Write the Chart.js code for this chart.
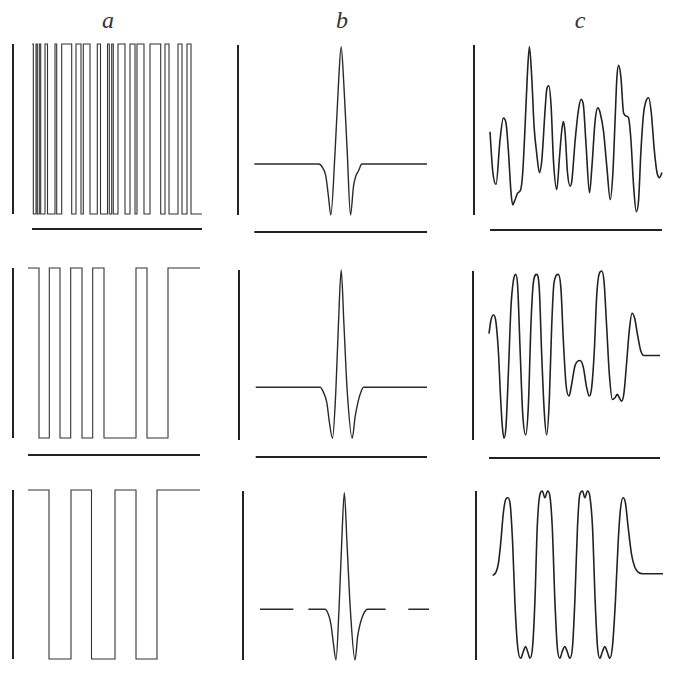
<!DOCTYPE html>
<html>
<head>
<meta charset="utf-8">
<title>Signals a, b, c</title>
<script src="https://cdn.jsdelivr.net/npm/chart.js@4.4.1/dist/chart.umd.min.js"></script>
<style>
  body { margin: 0; background: #fff; }
  #page { position: relative; width: 673px; height: 674px; overflow: hidden; }
  canvas { position: absolute; }
  .col-title { position: absolute; top: 8px; width: 40px; text-align: center;
               font: italic 24px/24px "Liberation Serif", "DejaVu Serif", serif; color: #333; }
</style>
</head>
<body>
<div id="page">
  <div class="col-title" style="left:88px">a</div>
  <div class="col-title" style="left:322px">b</div>
  <div class="col-title" style="left:560px">c</div>
</div>
<script>
// Column a: binary sequences, given as switch times (signal starts high)
const sq1Toggles = [1.3, 4, 5.3, 7.3, 8.7, 13, 15.5, 23, 24.7, 29.7, 39.7, 44, 49, 51.3, 58, 65.3, 68.5,
                    75.5, 77.3, 79.7, 81.3, 86, 93, 98, 103, 105, 112, 118, 128.7, 133, 137, 146, 150, 155, 159];
const sq1End = 170;
const sq2Toggles = [11, 21.3, 32, 42.7, 54, 64.7, 76, 108, 119, 140];
const sq2End = 172;
const sq3Toggles = [21, 43, 63.5, 87, 108, 129];
const sq3End = 172;

// Column b: pulse responses
const b1X = [0, 38.4, 41.4, 42.8, 44.4, 45.8, 48.4, 50.4, 52, 53.6, 55.6, 57.6, 59.4, 60.8, 62.4, 64.4, 103.4];
const b1Y = [30, 30, 27, 23, 11, 0, 38, 77, 99, 77, 38, 0, 17, 23, 26, 30, 30];
const b2X = [0, 38.6, 40.6, 42.6, 44.2, 46, 48, 49.6, 51.2, 52.8, 54.8, 57.8, 59.6, 61.2, 62.6, 64.6, 102.6];
const b2Y = [31, 31, 28, 22, 10, 1, 29, 69, 100, 69, 29, 1, 14, 22, 27, 31, 31];
const b3X = [0, 20, 24, 29, 39, 41, 42.6, 44, 45.6, 47.4, 49, 50.6, 52.2, 54.2, 57, 58.6, 60, 62, 64.6, 75.4, 82, 89, 101.4];
const b3Y = [30, 30, null, 30, 30, 27, 21, 10, 0, 30, 69, 99, 69, 30, 0, 14, 21, 27, 30, 30, null, 30, 30];

// Column c: filtered outputs
const c1X = [0, 1.6, 3.6, 6, 8, 9.6, 11, 12.6, 13.6, 15, 16.6, 18.4, 19.6, 21, 22.4, 23.6, 25, 26.4, 28, 29.6,
             31, 33, 34, 35.2, 36.6, 38, 40, 41.6, 43, 44, 45, 46.4, 48, 49, 51, 53, 54.6, 56, 57.6, 59.6,
             61, 63, 64.6, 66, 68, 70, 72, 73.6, 75, 76, 77, 78.4, 80, 82, 83, 84.4, 86, 87.6, 89, 90.4,
             92, 93.4, 95, 96.6, 98.4, 100, 101.6, 103];
const c1Y = [49, 26, 18, 44, 57, 54, 38, 13, 6, 9, 13, 15, 25, 52, 83, 99, 81, 52, 36, 25,
             32, 62, 74, 76, 64, 32, 15, 34, 50, 55, 48, 25, 17, 20, 44, 62, 68, 64, 40, 13,
             28, 56, 63, 60, 49, 28, 9, 25, 58, 81, 88, 81, 60, 58, 57, 44, 17, 2, 9, 38,
             60, 67, 69, 60, 38, 25, 22, 25];
const c2X = [0, 1.2, 2.6, 4, 5.6, 7, 8, 9, 10.2, 11.6, 13.2, 14.6, 16, 17.2, 18.6, 20.2, 22, 23.6, 25.2, 26.6,
             28.6, 30.2, 31.6, 33.2, 34.6, 36.2, 37.6, 39, 41.6, 43.2, 44.6, 46.2, 48, 49.6, 51.6, 54.6, 56.6, 58.6, 60.2, 61.6,
             63.2, 64.6, 66, 67.6, 69, 70.6, 72.2, 74, 75.6, 77, 78.2, 79.6, 81, 82.6, 84.2, 85.8, 87.4, 89, 91, 93,
             95.6, 102.6];
const c2Y = [63, 71, 74, 71, 53, 24, 8, 1, 8, 39, 79, 94, 98, 91, 55, 16, 3, 20, 69, 93,
             98, 89, 51, 16, 3, 24, 67, 93, 98, 89, 59, 33, 26, 33, 44, 47, 43, 31, 26, 31,
             53, 85, 98, 100, 94, 67, 39, 24, 25, 27, 25, 23, 28, 46, 65, 75, 72, 63, 53, 50,
             50, 50];
const c3X = [0, 2, 3.4, 4.8, 6.4, 7.8, 9, 10.4, 12, 13.4, 15, 16.8, 18.4, 19.8, 21, 22.4, 24, 25.4, 26.8, 28.4,
             29.8, 31.4, 33, 34.4, 35.8, 37.4, 38.8, 40.4, 41.8, 43.4, 44.8, 46.4, 48, 49.4, 51, 52.4, 54, 55.4, 57, 58.4,
             60, 61.6, 63, 64.4, 66, 67.4, 68.8, 70.4, 72, 73.8, 75.4, 76.8, 78.4, 79.8, 81.4, 83.4, 85.4, 87.4, 90.4, 102.4];
const c3Y = [50, 52, 57, 69, 87, 95, 96, 93, 69, 33, 8, 1, 5, 8, 5, 1, 8, 35, 79, 98,
             100, 96, 100, 97, 79, 35, 8, 1, 5, 8, 5, 1, 8, 35, 79, 98, 100, 96, 100, 97,
             79, 35, 8, 1, 5, 8, 5, 1, 8, 35, 69, 89, 96, 93, 79, 63, 55, 52, 51, 51];

const PAD = 4;

// turn switch times into a stepped series
function squarePoints(toggles, end) {
    let level = 100;
    const pts = [{ x: 0, y: level }];
    toggles.forEach(t => {
        level = 100 - level;
        pts.push({ x: t, y: level });
    });
    pts.push({ x: end, y: level });
    return pts;
}

function curvePoints(xs, ys) {
    return xs.map((x, i) => ({ x: x, y: ys[i] }));
}

// one small chart; p holds where it sits on the page
function makePanel(p) {
    const L = Math.round(p.lineX), R = Math.round(p.x1);
    const top = Math.round(p.yTop);
    const B = Math.round(p.axisY !== null ? p.axisY : p.yBot);

    const canvas = document.createElement('canvas');
    canvas.width = R - L + 2 * PAD;
    canvas.height = B - top + 2 * PAD;
    canvas.style.left = (L - PAD) + 'px';
    canvas.style.top = (top - PAD) + 'px';
    document.getElementById('page').appendChild(canvas);

    const xMin = -(p.x0 - L) * p.end / (R - p.x0);
    const yMin = 100 - 100 * (B - top) / (p.yBot - top);

    const signal = {
        data: p.points,
        borderColor: p.color,
        borderWidth: p.width,
        pointRadius: 0,
        spanGaps: false,
        clip: false
    };
    if (p.stepped) {
        signal.stepped = true;
    } else {
        signal.cubicInterpolationMode = 'monotone';
    }

    const datasets = [signal, {
        data: [{ x: xMin, y: 0 }, { x: xMin, y: 100 }],
        borderColor: '#222',
        borderWidth: 2,
        pointRadius: 0,
        clip: false
    }];
    if (p.axisY !== null) {
        datasets.push({
            data: [{ x: 0, y: yMin }, { x: p.end, y: yMin }],
            borderColor: '#222',
            borderWidth: 2,
            pointRadius: 0,
            clip: false
        });
    }

    new Chart(canvas.getContext('2d'), {
        type: 'line',
        data: { datasets: datasets },
        options: {
            responsive: false,
            animation: false,
            layout: { padding: PAD },
            plugins: { legend: { display: false }, tooltip: { enabled: false } },
            scales: {
                x: { type: 'linear', display: false, min: xMin, max: p.end },
                y: { display: false, min: yMin, max: 100 }
            }
        }
    });
}

const colA = { stepped: true, color: '#333', width: 1.1 };
const colB = { stepped: false, color: '#2a2a2a', width: 1.4 };
const colC = { stepped: false, color: '#222', width: 1.6 };

const panels = [
    { ...colA, points: squarePoints(sq1Toggles, sq1End), end: sq1End, lineX: 13, x0: 32, x1: 202, yTop: 44, yBot: 214, axisY: 229 },
    { ...colB, points: curvePoints(b1X, b1Y), end: 103.4, lineX: 238, x0: 254.3, x1: 426.7, yTop: 45, yBot: 215, axisY: 232 },
    { ...colC, points: curvePoints(c1X, c1Y), end: 103, lineX: 474, x0: 490, x1: 661.7, yTop: 45, yBot: 215, axisY: 230 },

    { ...colA, points: squarePoints(sq2Toggles, sq2End), end: sq2End, lineX: 13, x0: 28, x1: 200, yTop: 268, yBot: 438, axisY: 455 },
    { ...colB, points: curvePoints(b2X, b2Y), end: 102.6, lineX: 239, x0: 255.7, x1: 426.7, yTop: 270, yBot: 440, axisY: 457 },
    { ...colC, points: curvePoints(c2X, c2Y), end: 102.6, lineX: 472.7, x0: 489, x1: 660, yTop: 270.7, yBot: 440, axisY: 458 },

    { ...colA, points: squarePoints(sq3Toggles, sq3End), end: sq3End, lineX: 13, x0: 28, x1: 200, yTop: 490, yBot: 659, axisY: null },
    { ...colB, points: curvePoints(b3X, b3Y), end: 101.4, lineX: 243.3, x0: 260, x1: 429, yTop: 490.7, yBot: 660, axisY: null },
    { ...colC, points: curvePoints(c3X, c3Y), end: 102.4, lineX: 476, x0: 492.7, x1: 663.3, yTop: 490.7, yBot: 660, axisY: null }
];

panels.forEach(makePanel);
</script>
</body>
</html>
